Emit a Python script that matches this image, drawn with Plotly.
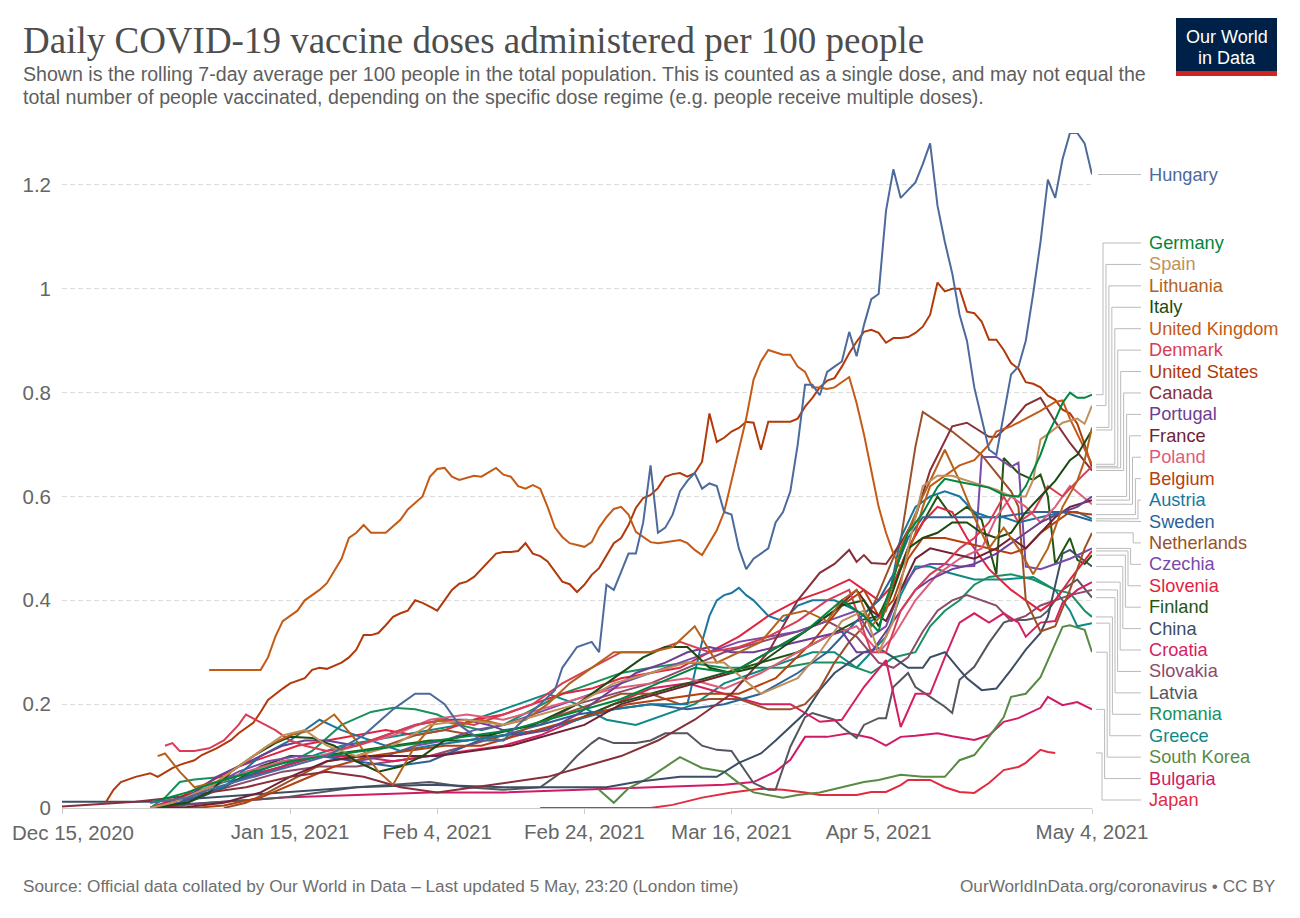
import plotly.graph_objects as go
import pandas as pd

START = pd.Timestamp("2020-12-15")
END = pd.Timestamp("2021-05-04")

tick_dates = ["2020-12-15", "2021-01-15", "2021-02-04", "2021-02-24", "2021-03-16", "2021-04-05", "2021-05-04"]
tick_labels = ["Dec 15, 2020", "Jan 15, 2021", "Feb 4, 2021", "Feb 24, 2021", "Mar 16, 2021", "Apr 5, 2021", "May 4, 2021"]
y_ticks = [0, 0.2, 0.4, 0.6, 0.8, 1.0, 1.2]
y_ticktext = ["0", "0.2", "0.4", "0.6", "0.8", "1", "1.2"]

# days are counted from Dec 15, 2020
hungary_days = [12,17,21,26,31,36,41,45,48,50,52,54,57,60,62,65,67,68,70,72,
                73,74,75,76,77,78,79,80,81,82,83,84,85,86,87,88,89,90,91,92,93,94,95,96,97,98,99,100,
                101,102,103,104,105,106,107,108,109,110,111,112,113,114,115,116,117,118,119,120,
                121,122,123,124,125,126,127,128,129,130,131,132,133,134,135,136,137,138,139,140]
hungary_vals = [0.01,0.02,0.04,0.06,0.08,0.10,0.14,0.19,0.22,0.22,0.20,0.16,0.13,0.13,0.16,0.20,0.227,0.27,0.31,0.32,
                0.30,0.43,0.42,0.455,0.49,0.49,0.55,0.66,0.53,0.54,0.565,0.61,0.63,0.645,0.615,0.625,0.62,0.57,0.565,0.50,0.46,0.48,0.49,0.50,0.55,0.57,0.61,0.70,
                0.815,0.815,0.795,0.84,0.85,0.86,0.917,0.87,0.93,0.98,0.99,1.15,1.23,1.175,1.19,1.205,1.24,1.28,1.16,1.09,
                1.03,0.95,0.90,0.81,0.75,0.69,0.68,0.76,0.835,0.85,0.90,0.99,1.09,1.21,1.175,1.25,1.30,1.30,1.28,1.22]

uk_days = [20,26,27,28,29,30,31,32,33,35,36,38,39,40,41,42,44,46,47,49,50,51,52,53,54,56,57,59,60,61,
           62,63,64,65,66,67,68,69,71,72,73,74,75,76,77,78,80,81,82,84,85,86,87,89,90,91,93,94,95,96,
           98,99,100,101,102,103,104,105,106,107,108,109,110,111,112,113,114,115,116,117,
           118,120,122,124,126,127,129,131,133,135,136,137,138,139,140]
uk_vals = [0.266,0.266,0.266,0.29,0.33,0.36,0.37,0.38,0.40,0.42,0.433,0.48,0.52,0.53,0.545,0.53,0.53,0.555,0.575,0.60,
           0.638,0.653,0.655,0.638,0.632,0.64,0.638,0.655,0.642,0.638,0.62,0.615,0.622,0.615,0.58,0.54,0.522,0.51,0.503,0.512,
           0.54,0.56,0.576,0.58,0.565,0.532,0.512,0.51,0.512,0.516,0.51,0.497,0.487,0.535,0.57,0.632,0.75,0.825,0.86,0.882,
           0.873,0.873,0.85,0.84,0.81,0.81,0.807,0.81,0.82,0.83,0.78,0.72,0.65,0.58,0.53,0.49,0.46,0.49,0.53,0.58,
           0.62,0.64,0.66,0.67,0.70,0.725,0.735,0.75,0.765,0.782,0.785,0.75,0.72,0.69,0.662]

us_days = [6,7,8,10,12,13,15,16,18,19,21,23,24,26,27,28,30,31,33,34,35,36,
           38,39,40,41,42,43,44,45,46,47,48,49,50,51,52,53,54,55,56,57,58,59,60,61,62,63,64,65,66,67,
           68,69,70,71,72,73,74,75,76,77,78,79,80,81,82,83,84,85,86,87,88,89,90,91,92,93,94,95,96,97,
           98,99,100,101,102,103,104,105,106,107,108,109,110,111,112,113,114,115,116,117,118,119,120,
           121,122,123,124,125,126,127,128,129,130,131,132,133,134,135,136,137,138,139,140]
us_vals = [0.012,0.035,0.05,0.06,0.067,0.06,0.077,0.083,0.092,0.102,0.115,0.131,0.144,0.164,0.185,0.208,0.23,0.24,0.25,0.266,0.27,0.268,
           0.28,0.29,0.305,0.333,0.333,0.337,0.352,0.368,0.375,0.38,0.40,0.395,0.388,0.38,0.40,0.42,0.432,0.436,0.445,0.46,
           0.474,0.49,0.493,0.493,0.495,0.51,0.49,0.485,0.475,0.455,0.436,0.431,0.416,0.43,0.449,0.462,0.487,0.51,0.52,0.545,
           0.578,0.597,0.603,0.616,0.638,0.643,0.645,0.638,0.645,0.667,0.76,0.705,0.713,0.725,0.732,0.744,0.742,0.69,0.744,0.744,
           0.744,0.744,0.75,0.773,0.79,0.81,0.823,0.828,0.85,0.876,0.898,0.917,0.921,0.915,0.896,0.905,0.905,0.907,0.915,0.927,
           0.95,1.012,0.995,1.0,1.0,0.956,0.953,0.937,0.902,0.902,0.882,0.857,0.846,0.82,0.817,0.81,0.794,0.786,0.767,0.76,
           0.74,0.70,0.655]

germany_days = [12,17,21,26,31,36,41,46,51,56,61,66,71,76,81,86,91,96,101,106,109,111,112,113,114,115,117,119,120,122,
                124,126,128,130,131,132,133,134,135,136,137,138,139,140]
germany_vals = [0.01,0.03,0.05,0.07,0.09,0.1,0.11,0.12,0.13,0.14,0.15,0.17,0.19,0.21,0.24,0.27,0.26,0.3,0.34,0.40,
                0.37,0.34,0.40,0.44,0.49,0.53,0.568,0.618,0.634,0.628,0.622,0.617,0.603,0.60,0.62,0.65,0.68,0.72,0.748,0.78,
                0.80,0.79,0.79,0.796]

spain_days = [12,15,20,25,30,33,36,40,45,50,55,60,65,70,75,80,85,90,95,100,103,106,109,111,113,115,117,119,121,124,
              127,129,131,132,133,134,136,138,139,140]
spain_vals = [0.0,0.01,0.04,0.09,0.14,0.15,0.12,0.10,0.12,0.16,0.17,0.16,0.18,0.20,0.24,0.26,0.28,0.28,0.22,0.25,
              0.30,0.36,0.38,0.30,0.36,0.50,0.62,0.64,0.64,0.626,0.613,0.60,0.60,0.632,0.71,0.72,0.742,0.75,0.74,0.775]

lithuania_days = [13,14,16,18,21,25,28,31,34,37,40,43,45,48,51,54,57,60,63,66,69,72,75,78,80,83,86,89,92,95,
                  98,101,104,106,108,110,112,114,117,119,120,121,122,124,126,128,130,132,134,136,138,139,140]
lithuania_vals = [0.10,0.105,0.07,0.04,0.05,0.09,0.12,0.14,0.15,0.18,0.13,0.07,0.045,0.12,0.17,0.16,0.17,0.16,0.17,0.20,
                  0.24,0.27,0.30,0.30,0.30,0.31,0.35,0.28,0.30,0.32,0.37,0.38,0.36,0.40,0.42,0.35,0.38,0.50,0.60,0.66,
                  0.69,0.66,0.63,0.56,0.50,0.54,0.50,0.45,0.50,0.58,0.63,0.67,0.733]

italy_days = [12,17,20,23,26,29,31,34,37,40,43,46,49,52,55,58,61,64,67,70,73,76,79,82,85,88,91,94,97,100,
              103,106,109,111,113,115,117,119,121,123,125,127,129,131,133,135,137,138,140]
italy_vals = [0.0,0.01,0.03,0.07,0.10,0.125,0.137,0.135,0.12,0.09,0.07,0.08,0.10,0.13,0.14,0.14,0.15,0.16,0.18,0.20,
              0.23,0.26,0.29,0.31,0.31,0.27,0.26,0.27,0.30,0.33,0.36,0.39,0.40,0.35,0.42,0.50,0.52,0.53,0.55,0.55,
              0.53,0.52,0.53,0.57,0.60,0.63,0.67,0.68,0.728]

denmark_days = [14,15,16,18,20,22,24,25,27,29,31,33,36,40,44,48,52,56,60,64,68,72,76,80,84,88,92,96,100,104,
                107,110,112,114,116,118,120,122,124,126,128,130,132,134,136,138,140]
denmark_vals = [0.12,0.125,0.11,0.11,0.115,0.13,0.16,0.18,0.165,0.15,0.13,0.12,0.11,0.12,0.14,0.16,0.17,0.16,0.18,0.20,
                0.24,0.27,0.30,0.30,0.32,0.30,0.31,0.33,0.36,0.40,0.42,0.30,0.30,0.38,0.42,0.45,0.47,0.50,0.52,0.55,
                0.60,0.55,0.57,0.62,0.60,0.63,0.658]

canada_days = [0,5,10,15,20,25,31,36,41,46,51,56,61,66,71,76,81,86,91,96,100,103,105,107,108,109,110,112,114,116,
               118,121,123,126,127,129,131,133,135,137,140]
canada_vals = [0.003,0.008,0.012,0.02,0.03,0.04,0.06,0.07,0.06,0.04,0.03,0.04,0.05,0.06,0.08,0.10,0.13,0.17,0.22,0.30,
               0.40,0.453,0.47,0.497,0.474,0.487,0.472,0.47,0.51,0.56,0.65,0.735,0.742,0.715,0.715,0.742,0.776,0.79,0.744,0.703,0.65]

portugal_days = [12,15,18,21,24,27,30,33,36,40,44,48,52,55,58,62,66,70,74,78,82,85,88,91,94,97,100,103,106,108,
                 110,112,114,116,118,121,124,127,130,133,136,138,140]
portugal_vals = [0.0,0.01,0.03,0.06,0.08,0.10,0.12,0.13,0.13,0.12,0.14,0.16,0.17,0.17,0.16,0.14,0.15,0.18,0.22,0.26,
                 0.28,0.30,0.31,0.30,0.30,0.31,0.32,0.33,0.34,0.30,0.30,0.34,0.38,0.42,0.44,0.46,0.47,0.49,0.52,0.55,
                 0.57,0.58,0.60]

france_days = [12,17,22,27,31,36,41,46,51,56,61,66,71,76,81,86,91,96,101,105,108,110,112,114,116,118,121,124,127,129,
               131,133,135,137,140]
france_vals = [0.0,0.002,0.01,0.03,0.06,0.09,0.10,0.10,0.10,0.11,0.12,0.14,0.16,0.20,0.22,0.24,0.26,0.30,0.34,0.38,
               0.42,0.38,0.36,0.42,0.48,0.50,0.49,0.48,0.50,0.52,0.50,0.53,0.56,0.58,0.593]

poland_days = [12,15,20,25,30,35,40,45,50,55,60,65,70,75,80,85,90,95,100,104,108,111,113,116,119,122,125,127,129,131,
               133,135,137,140]
poland_vals = [0.0,0.01,0.04,0.07,0.09,0.10,0.12,0.14,0.17,0.18,0.17,0.19,0.21,0.23,0.24,0.25,0.23,0.26,0.30,0.33,
               0.35,0.30,0.33,0.40,0.45,0.48,0.50,0.56,0.60,0.58,0.55,0.58,0.62,0.585]

belgium_days = [12,18,22,27,32,37,42,47,52,57,62,67,72,77,82,87,92,97,102,106,109,111,113,115,117,120,123,126,129,131,
                133,135,137,140]
belgium_vals = [0.0,0.0,0.005,0.02,0.05,0.08,0.10,0.11,0.12,0.12,0.14,0.16,0.18,0.20,0.21,0.22,0.22,0.25,0.32,0.39,
                0.42,0.37,0.40,0.48,0.52,0.52,0.51,0.50,0.49,0.50,0.53,0.55,0.57,0.565]

austria_days = [12,17,22,27,31,35,38,42,46,50,55,60,65,70,75,80,85,86,87,88,89,90,91,92,93,94,96,98,100,102,
                105,108,110,112,114,116,118,120,122,124,126,128,130,133,136,138,140]
austria_vals = [0.0,0.01,0.04,0.10,0.13,0.17,0.15,0.13,0.11,0.12,0.13,0.14,0.15,0.17,0.19,0.20,0.20,0.26,0.32,0.37,
                0.40,0.41,0.414,0.424,0.41,0.40,0.37,0.36,0.39,0.40,0.40,0.38,0.36,0.38,0.52,0.58,0.60,0.61,0.60,0.57,
                0.56,0.56,0.55,0.56,0.57,0.57,0.557]

sweden_days = [12,16,20,25,30,35,40,45,50,55,60,65,70,75,80,85,90,95,100,104,108,111,113,115,117,122,127,132,136,140]
sweden_vals = [0.0,0.01,0.03,0.06,0.09,0.10,0.09,0.08,0.09,0.12,0.15,0.16,0.18,0.19,0.20,0.19,0.20,0.22,0.26,0.30,
               0.36,0.40,0.45,0.52,0.56,0.56,0.56,0.57,0.57,0.553]

netherlands_days = [22,25,28,32,36,40,44,48,52,56,60,64,68,72,76,80,84,88,92,96,
                    99,101,103,105,107,109,111,114,116,117,121,125,129,130,131,133,135,137,139,140]
netherlands_vals = [0.0,0.01,0.03,0.06,0.09,0.10,0.12,0.14,0.15,0.14,0.13,0.16,0.18,0.20,0.22,0.22,0.20,0.21,0.21,0.19,
                    0.19,0.20,0.23,0.28,0.32,0.35,0.414,0.516,0.696,0.763,0.725,0.68,0.61,0.58,0.40,0.34,0.35,0.42,0.50,0.53]

czechia_days = [12,16,20,24,28,32,36,40,44,48,52,56,60,64,68,72,76,80,84,88,92,96,100,104,108,110,112,114,116,118,
                120,122,124,125,127,129,130,131,133,135,137,140]
czechia_vals = [0.0,0.01,0.04,0.07,0.09,0.10,0.10,0.09,0.10,0.12,0.13,0.15,0.16,0.18,0.20,0.22,0.24,0.26,0.28,0.30,
                0.32,0.33,0.34,0.36,0.38,0.33,0.35,0.42,0.46,0.47,0.47,0.465,0.466,0.676,0.676,0.657,0.665,0.465,0.46,0.47,
                0.48,0.50]

slovenia_days = [12,16,20,24,28,32,36,40,44,48,52,56,60,64,68,72,76,80,84,88,92,96,100,104,107,109,111,113,115,117,
                 119,121,123,126,129,131,133,135,137,140]
slovenia_vals = [0.0,0.02,0.05,0.08,0.10,0.12,0.13,0.14,0.15,0.14,0.15,0.17,0.18,0.20,0.22,0.23,0.25,0.26,0.27,0.30,
                 0.33,0.37,0.40,0.42,0.44,0.42,0.40,0.43,0.50,0.55,0.58,0.57,0.52,0.46,0.42,0.40,0.38,0.40,0.44,0.495]

finland_days = [12,17,22,27,31,35,40,45,50,55,60,65,70,75,80,85,90,95,100,104,108,111,113,115,117,119,121,123,125,126,
                127,128,130,132,133,134,135,137,138,139,140]
finland_vals = [0.0,0.01,0.04,0.08,0.10,0.10,0.11,0.12,0.13,0.13,0.14,0.15,0.17,0.20,0.22,0.24,0.26,0.28,0.30,0.33,
                0.36,0.37,0.43,0.50,0.55,0.60,0.56,0.58,0.555,0.50,0.45,0.674,0.645,0.632,0.642,0.60,0.47,0.52,0.478,0.47,0.487]

china_days = [0,12,25,40,50,60,74,78,84,89,92,95,97,99,101,103,105,107,109,111,113,115,117,118,120,122,123,125,127,129,
              131,133,134,136,137,140]
china_vals = [0.012,0.012,0.025,0.04,0.045,0.04,0.04,0.05,0.06,0.06,0.087,0.105,0.13,0.156,0.183,0.227,0.26,0.28,0.30,0.308,
              0.29,0.27,0.27,0.29,0.30,0.266,0.25,0.227,0.23,0.266,0.305,0.337,0.368,0.49,0.497,0.465]

croatia_days = [12,16,20,25,30,35,40,45,50,55,60,65,70,75,80,85,90,95,99,103,106,109,112,114,116,118,120,122,124,126,
                128,130,131,133,135,136,138,140]
croatia_vals = [0.0,0.01,0.03,0.06,0.08,0.10,0.10,0.09,0.10,0.11,0.12,0.14,0.17,0.20,0.23,0.24,0.22,0.20,0.20,0.166,
                0.17,0.233,0.285,0.156,0.22,0.22,0.29,0.357,0.375,0.357,0.375,0.357,0.33,0.357,0.36,0.395,0.42,0.435]

slovakia_days = [12,16,20,25,30,35,40,45,50,55,60,65,70,75,80,85,90,95,100,104,108,111,113,115,117,119,121,123,125,127,
                 129,131,133,135,137,140]
slovakia_vals = [0.0,0.01,0.03,0.05,0.07,0.08,0.08,0.09,0.10,0.12,0.14,0.16,0.20,0.22,0.24,0.27,0.30,0.32,0.34,0.36,
                 0.33,0.28,0.27,0.29,0.34,0.38,0.40,0.41,0.40,0.39,0.36,0.37,0.39,0.40,0.41,0.42]

latvia_days = [14,20,25,30,35,40,45,50,55,60,65,68,70,72,73,75,78,80,82,85,
               87,89,91,92,94,96,97,99,101,102,105,106,108,109,111,112,113,115,116,118,
               120,121,122,124,126,128,129,131,133,134,136,138,140]
latvia_vals = [0.005,0.01,0.015,0.02,0.03,0.04,0.045,0.05,0.04,0.035,0.04,0.07,0.10,0.125,0.135,0.125,0.125,0.13,0.144,0.144,
               0.12,0.112,0.11,0.09,0.048,0.035,0.035,0.118,0.175,0.183,0.17,0.156,0.135,0.16,0.173,0.173,0.233,0.26,0.233,0.214,
               0.195,0.183,0.247,0.272,0.318,0.357,0.362,0.362,0.368,0.38,0.42,0.44,0.405]

romania_days = [12,14,16,18,22,26,30,34,38,42,45,48,51,54,57,60,64,68,72,76,80,85,90,94,98,102,106,110,113,116,
                118,120,122,124,126,129,132,135,137,139,140]
romania_vals = [0.0,0.02,0.05,0.055,0.06,0.065,0.08,0.11,0.16,0.185,0.193,0.19,0.18,0.16,0.15,0.16,0.19,0.22,0.24,0.26,
                0.27,0.28,0.27,0.27,0.27,0.28,0.28,0.26,0.29,0.30,0.35,0.38,0.40,0.43,0.445,0.45,0.44,0.42,0.414,0.38,0.368]

greece_days = [12,14,18,22,26,30,34,38,42,46,50,54,58,62,66,70,74,78,82,86,90,94,98,102,105,108,110,112,114,116,
               118,120,124,128,132,135,137,138,140]
greece_vals = [0.0,0.01,0.03,0.05,0.06,0.08,0.10,0.12,0.13,0.14,0.15,0.16,0.18,0.20,0.22,0.20,0.17,0.16,0.18,0.20,
               0.24,0.26,0.28,0.30,0.30,0.27,0.30,0.33,0.41,0.465,0.465,0.455,0.44,0.44,0.445,0.42,0.38,0.35,0.356]

south_korea_days = [73,75,77,80,84,87,90,92,94,96,98,100,103,106,109,111,114,117,120,122,124,126,128,129,131,133,135,136,137,139,140]
south_korea_vals = [0.035,0.01,0.038,0.06,0.098,0.077,0.07,0.048,0.03,0.025,0.02,0.025,0.03,0.04,0.05,0.054,0.064,0.06,0.06,0.092,
                    0.102,0.137,0.175,0.214,0.22,0.252,0.318,0.349,0.352,0.343,0.30]

bulgaria_days = [12,20,30,40,50,60,70,80,90,94,97,99,101,104,107,110,112,114,116,119,121,124,126,128,130,133,134,136,138,140]
bulgaria_vals = [0.0,0.01,0.02,0.025,0.03,0.03,0.035,0.04,0.045,0.05,0.07,0.093,0.137,0.137,0.144,0.135,0.12,0.137,0.139,0.144,
                 0.138,0.131,0.14,0.166,0.173,0.193,0.214,0.198,0.204,0.19]

japan_days = [65,80,83,87,91,95,98,101,103,108,110,112,114,115,118,120,122,124,126,128,130,131,133,134,135]
japan_vals = [0.0,0.0,0.006,0.02,0.03,0.037,0.035,0.03,0.025,0.025,0.031,0.031,0.044,0.054,0.054,0.04,0.031,0.029,0.048,0.073,
              0.079,0.087,0.112,0.108,0.106]

countries = ["Hungary", "Germany", "Spain", "Lithuania", "Italy", "United Kingdom", "Denmark", "United States",
             "Canada", "Portugal", "France", "Poland", "Belgium", "Austria", "Sweden", "Netherlands", "Czechia",
             "Slovenia", "Finland", "China", "Croatia", "Slovakia", "Latvia", "Romania", "Greece", "South Korea",
             "Bulgaria", "Japan"]
series_days = [hungary_days, germany_days, spain_days, lithuania_days, italy_days, uk_days, denmark_days, us_days,
               canada_days, portugal_days, france_days, poland_days, belgium_days, austria_days, sweden_days,
               netherlands_days, czechia_days, slovenia_days, finland_days, china_days, croatia_days, slovakia_days,
               latvia_days, romania_days, greece_days, south_korea_days, bulgaria_days, japan_days]
series_vals = [hungary_vals, germany_vals, spain_vals, lithuania_vals, italy_vals, uk_vals, denmark_vals, us_vals,
               canada_vals, portugal_vals, france_vals, poland_vals, belgium_vals, austria_vals, sweden_vals,
               netherlands_vals, czechia_vals, slovenia_vals, finland_vals, china_vals, croatia_vals, slovakia_vals,
               latvia_vals, romania_vals, greece_vals, south_korea_vals, bulgaria_vals, japan_vals]
colors = ["#4C6A9C", "#00873E", "#C0905C", "#B4621B", "#1A4A10", "#C45A16", "#D93D55", "#B23A0A",
          "#883039", "#6D3E91", "#6E2233", "#DD5E7B", "#B5400E", "#18779F", "#2D6198", "#9A5129", "#7A4AA8",
          "#E2233F", "#235512", "#3C4E66", "#D61F61", "#8C4A6D", "#55565F", "#18915E", "#0E8A86", "#578B44",
          "#D11A66", "#E22B3F"]

# ---------------- figure ----------------
# reference-image pixel geometry; the page body adds an 8px offset, so the figure is shrunk by it
PAGE_OFF = 8
W, H = 1300 - PAGE_OFF, 918 - PAGE_OFF
L, R, T, B = 62, 1092, 133, 808
YMAX = 1.3

def pxx(px):
    return (px - L) / (R - L)

def pxy(py):
    return (B - py) / (B - T)

def val_py(v):
    return B - v / YMAX * (B - T)

fig = go.Figure()
for name, d, v, c in reversed(list(zip(countries, series_days, series_vals, colors))):
    n = min(len(d), len(v))
    x = START + pd.to_timedelta(d[:n], unit="D")
    fig.add_trace(go.Scatter(x=x, y=v[:n], mode="lines", name=name,
                             line=dict(color=c, width=2), showlegend=False, hoverinfo="skip"))

annotations = []
shapes = []
FONT = "Liberation Sans, Arial, sans-serif"
TICK_FONT = dict(family=FONT, size=20.5, color="#666666")

LABEL_X = 1147
x_start = pxx(1096)
x_end = pxx(1141)
others = list(range(1, len(countries)))
top_slot, bottom_slot = 243, 800
step = (bottom_slot - top_slot) / (len(others) - 1)
up = []
down = []
slots = {}
for k, i in enumerate(others):
    slots[i] = top_slot + k * step
    end_py = val_py(series_vals[i][-1])
    if slots[i] < end_py - 1:
        up.append(i)
    elif slots[i] > end_py + 1:
        down.append(i)
xv = {}
for k, i in enumerate(up):
    xv[i] = min(1103 + 2.95 * k, 1138)
for k, i in enumerate(down):
    xv[i] = min(1102 + 2.6 * (len(down) - 1 - k), 1136)

h_py = val_py(series_vals[0][-1])
shapes.append(dict(type="line", xref="paper", yref="paper", x0=pxx(1098), x1=x_end, y0=pxy(h_py), y1=pxy(h_py),
                   line=dict(color="#BBBBBB", width=1)))
annotations.append(dict(x=pxx(LABEL_X), y=pxy(h_py), xref="paper", yref="paper", text=countries[0],
                        showarrow=False, xanchor="left", yanchor="middle",
                        font=dict(family=FONT, size=18.2, color=colors[0])))
for i in others:
    ly = slots[i]
    ey = val_py(series_vals[i][-1])
    if i in xv:
        xm = pxx(xv[i])
        path = f"M {x_start},{pxy(ey)} L {xm},{pxy(ey)} L {xm},{pxy(ly)} L {x_end},{pxy(ly)}"
    else:
        path = f"M {x_start},{pxy(ey)} L {x_end},{pxy(ly)}"
    shapes.append(dict(type="path", xref="paper", yref="paper", path=path,
                       line=dict(color="#BBBBBB", width=1)))
    annotations.append(dict(x=pxx(LABEL_X), y=pxy(ly), xref="paper", yref="paper", text=countries[i],
                            showarrow=False, xanchor="left", yanchor="middle",
                            font=dict(family=FONT, size=18.2, color=colors[i])))

# first x tick label is nudged right so it stays inside the figure (as in the original)
axis_ticktext = [""] + tick_labels[1:]
annotations.append(dict(x=pxx(10), y=pxy(832), xref="paper", yref="paper", showarrow=False,
                        xanchor="left", yanchor="middle", text=tick_labels[0], font=TICK_FONT))

annotations += [
    dict(x=pxx(21), y=pxy(40), xref="paper", yref="paper", showarrow=False, xanchor="left", yanchor="middle",
         text="Daily COVID-19 vaccine doses administered per 100 people",
         font=dict(family="Liberation Serif, Times New Roman, serif", size=37, color="#4D4D4D")),
    dict(x=pxx(21), y=pxy(74), xref="paper", yref="paper", showarrow=False, xanchor="left", yanchor="middle",
         text="Shown is the rolling 7-day average per 100 people in the total population. This is counted as a single dose, and may not equal the",
         font=dict(family=FONT, size=19.6, color="#5E5E5E")),
    dict(x=pxx(21), y=pxy(97), xref="paper", yref="paper", showarrow=False, xanchor="left", yanchor="middle",
         text="total number of people vaccinated, depending on the specific dose regime (e.g. people receive multiple doses).",
         font=dict(family=FONT, size=19.6, color="#5E5E5E")),
    dict(x=pxx(21), y=pxy(886), xref="paper", yref="paper", showarrow=False, xanchor="left", yanchor="middle",
         text="Source: Official data collated by Our World in Data – Last updated 5 May, 23:20 (London time)",
         font=dict(family=FONT, size=17.2, color="#6E6E6E")),
    dict(x=pxx(1278), y=pxy(886), xref="paper", yref="paper", showarrow=False, xanchor="right", yanchor="middle",
         text="OurWorldInData.org/coronavirus • CC BY",
         font=dict(family=FONT, size=17.2, color="#6E6E6E")),
    dict(x=pxx(1227), y=pxy(37), xref="paper", yref="paper", showarrow=False, xanchor="center", yanchor="middle",
         text="Our World", font=dict(family=FONT, size=18, color="#FFFFFF")),
    dict(x=pxx(1227), y=pxy(58), xref="paper", yref="paper", showarrow=False, xanchor="center", yanchor="middle",
         text="in Data", font=dict(family=FONT, size=18, color="#FFFFFF")),
]
shapes.append(dict(type="rect", xref="paper", yref="paper", x0=pxx(1176), x1=pxx(1277), y0=pxy(76), y1=pxy(18),
                   fillcolor="#002147", line=dict(width=0), layer="below"))
shapes.append(dict(type="rect", xref="paper", yref="paper", x0=pxx(1176), x1=pxx(1277), y0=pxy(76), y1=pxy(71),
                   fillcolor="#CE261E", line=dict(width=0), layer="below"))

fig.update_layout(
    width=W, height=H,
    margin=dict(l=L - PAGE_OFF, r=1300 - R, t=T - PAGE_OFF, b=918 - B, pad=0, autoexpand=False),
    paper_bgcolor="white", plot_bgcolor="white",
    showlegend=False,
    annotations=annotations,
    shapes=shapes,
    xaxis=dict(type="date", range=[START, END], tickvals=tick_dates, ticktext=axis_ticktext, automargin=False,
               showgrid=False, zeroline=False, showline=True, linecolor="#CCCCCC", linewidth=1,
               ticks="outside", ticklen=5, tickcolor="#CCCCCC", tickfont=TICK_FONT),
    yaxis=dict(range=[0, YMAX], tickvals=y_ticks, ticktext=y_ticktext, automargin=False,
               showgrid=True, gridcolor="#DDDDDD", griddash="5px,3px", gridwidth=1,
               zeroline=False, showline=False, ticks="", ticklabelstandoff=10, tickfont=TICK_FONT),
)

fig.write_html("out.html")
